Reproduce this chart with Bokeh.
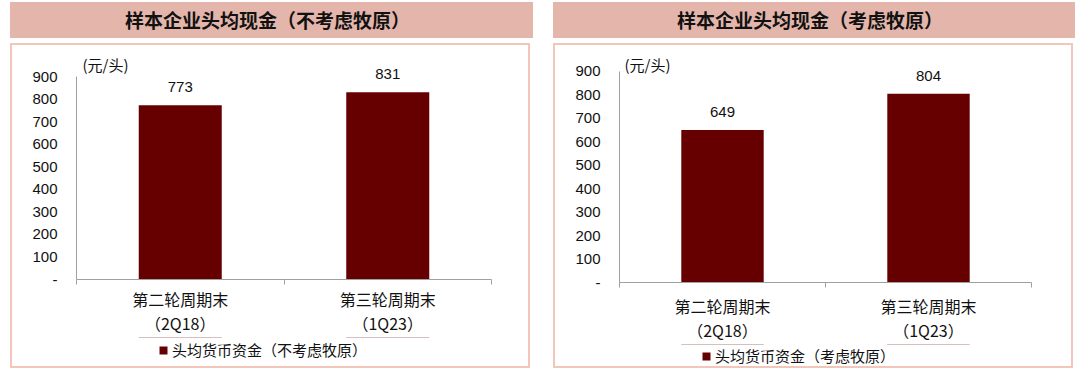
from bokeh.plotting import figure
from bokeh.models import (Range1d, FixedTicker, Label, LabelSet, Div,
                          ColumnDataSource, Legend, LegendItem)
from bokeh.core.properties import value
from bokeh.layouts import row, column
from bokeh.embed import file_html
from bokeh.resources import INLINE

# ---- data ----
categories = ["第二轮周期末\n（2Q18）", "第三轮周期末\n（1Q23）"]
values_excl = [773, 831]          # 不考虑牧原
values_incl = [649, 804]          # 考虑牧原
titles = ["样本企业头均现金（不考虑牧原）", "样本企业头均现金（考虑牧原）"]
legend_labels = ["头均货币资金（不考虑牧原）", "头均货币资金（考虑牧原）"]
unit_label = "(元/头)"
y_ticks = [0, 100, 200, 300, 400, 500, 600, 700, 800, 900]
y_tick_labels = ["-", "100", "200", "300", "400", "500", "600", "700", "800", "900"]

CJK = "Noto Sans CJK SC"
NUM = "Liberation Sans"
BAR = "#660000"
AXIS = "#A0A0A0"
BAND = "#E4B6AB"
BOX = "#F2C6B9"
TXT = "#111111"


def panel(title, values, legend_label, geo):
    div = Div(text=(f'<div style="width:{geo["bw"]}px;height:36px;line-height:36px;'
                    f'text-align:center;font-family:\'{CJK}\';font-weight:bold;'
                    f'font-size:19px;color:{TXT};padding-right:8px;box-sizing:border-box;">'
                    f'{title}</div>'),
              width=geo["bw"], height=36,
              styles={"background-color": BAND},
              margin=(2, 0, 0, geo["gl"]))

    y_end = y_ticks[-1] + geo["pad"]
    p = figure(width=520, height=geo["h"], x_range=Range1d(0, len(values)),
               y_range=Range1d(y_ticks[0], y_end), title=None,
               min_border_left=geo["ml"], min_border_right=geo["mr"],
               min_border_top=geo["mt"], min_border_bottom=geo["mb"],
               toolbar_location=None, output_backend="svg",
               styles={"box-shadow": f"inset 2px 2px 0 0 {BOX}, inset -2px 0 0 0 {BOX}"})
    p.outline_line_color = None
    p.grid.visible = False
    p.background_fill_color = "white"
    p.border_fill_color = None

    xs = [i + 0.5 for i in range(len(values))]
    src = ColumnDataSource(dict(x=xs, top=values, lab=[str(v) for v in values]))
    p.vbar(x="x", top="top", width=0.4, source=src, fill_color=BAR, line_color=None)

    p.add_layout(LabelSet(x="x", y="top", text="lab", source=src, y_offset=13,
                          text_align="center", text_baseline="alphabetic",
                          text_font=value(NUM), text_font_size="15px", text_color=TXT))

    p.add_layout(Label(x=0, y=y_ticks[-1], x_offset=geo["ux"], y_offset=geo["uy"],
                       text=unit_label, text_align="left", text_baseline="middle",
                       text_font=CJK, text_font_size="15px", text_color=TXT))

    ya = p.yaxis[0]
    ya.ticker = FixedTicker(ticks=y_ticks)
    ya.bounds = (y_ticks[0], y_ticks[-1])
    ya.major_label_overrides = {t: l for t, l in zip(y_ticks, y_tick_labels)}
    ya.major_tick_line_color = None
    ya.major_tick_out = 0
    ya.major_tick_in = 0
    ya.minor_tick_line_color = None
    ya.axis_line_color = AXIS
    ya.major_label_standoff = 19
    ya.major_label_text_font = NUM
    ya.major_label_text_font_size = "15px"
    ya.major_label_text_color = TXT

    xa = p.xaxis[0]
    xa.ticker = FixedTicker(ticks=xs, minor_ticks=list(range(len(values) + 1)))
    xa.major_label_overrides = {x: c for x, c in zip(xs, categories)}
    xa.major_tick_line_color = None
    xa.major_tick_out = 0
    xa.major_tick_in = 0
    xa.minor_tick_line_color = AXIS
    xa.minor_tick_out = 5
    xa.minor_tick_in = 0
    xa.axis_line_color = AXIS
    xa.major_label_standoff = geo["xs"]
    xa.major_label_text_font = CJK
    xa.major_label_text_font_size = "16px"
    xa.major_label_text_line_height = 1.0
    xa.major_label_text_color = TXT

    # legend strip: same bars, drawn outside its visible range, only the legend shows
    q = figure(width=520, height=geo["qh"], x_range=Range1d(0, len(values)),
               y_range=Range1d(-2, -1), min_border=0,
               x_axis_location=None, y_axis_location=None,
               toolbar_location=None, output_backend="svg", title=None,
               styles={"box-shadow": f"inset 2px -2px 0 0 {BOX}, inset -2px 0 0 0 {BOX}"})
    q.outline_line_color = None
    q.grid.visible = False
    q.background_fill_color = None
    q.border_fill_color = None
    rq = q.vbar(x="x", top="top", width=0.4, source=src, fill_color=BAR, line_color=None)
    q.add_layout(Legend(items=[LegendItem(label=legend_label, renderers=[rq])],
                        location=geo["leg"], orientation="horizontal",
                        glyph_width=10, glyph_height=10, label_standoff=4,
                        padding=0, margin=0, border_line_color=None,
                        background_fill_alpha=0, label_height=20,
                        label_text_font=CJK, label_text_font_size="15px",
                        label_text_color=TXT), "center")

    body = column(p, q, spacing=0, margin=(5, 0, 0, geo["gl"]))
    return column(div, body, spacing=0)


# layout geometry (pixels)
geo_left = dict(bw=523, gl=10, pad=116, ml=66, mr=39, mt=7, mb=54, h=294, qh=31,
                ux=6, uy=12, xs=2, leg=(82, 8))
geo_right = dict(bw=522, gl=20, pad=88, ml=66, mr=42, mt=7, mb=58, h=301, qh=24,
                 ux=5, uy=7, xs=6, leg=(82, 2))

c1 = panel(titles[0], values_excl, legend_labels[0], geo_left)
c2 = panel(titles[1], values_incl, legend_labels[1], geo_right)

layout = row(c1, c2, spacing=0)
open("out.html", "w").write(file_html(layout, INLINE))
